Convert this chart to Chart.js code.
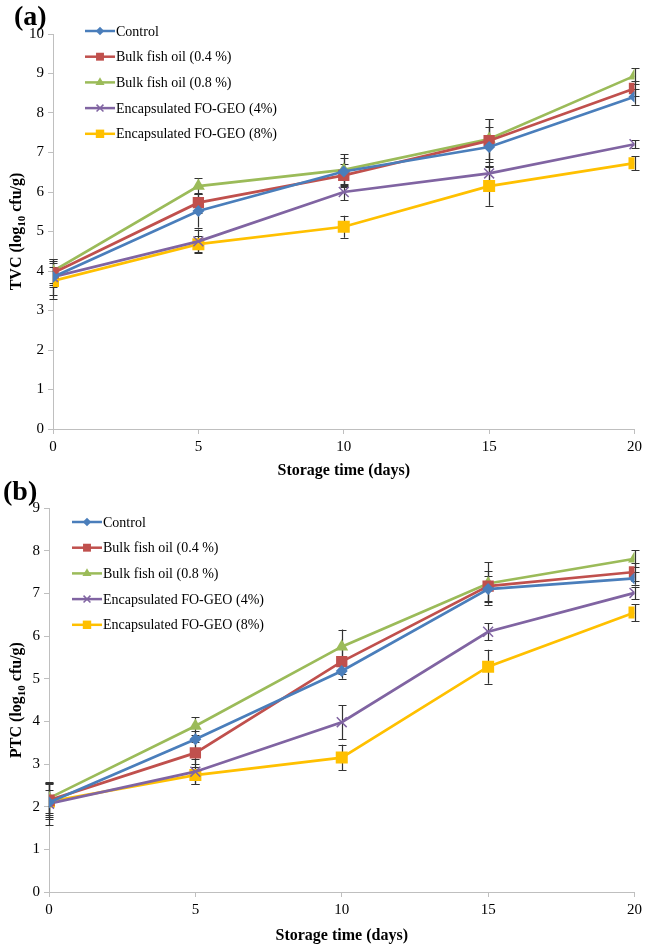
<!DOCTYPE html>
<html>
<head>
<meta charset="utf-8">
<script src="https://cdn.jsdelivr.net/npm/chart.js@4.4.1/dist/chart.umd.min.js"></script>
<style>
body { margin: 0; background: #fff; width: 646px; height: 945px; position: relative; overflow: hidden; }
.box { position: absolute; left: 0; width: 646px; }
.tag { position: absolute; font: bold 28px "Liberation Serif", serif; color: #000; }
</style>
</head>
<body>
<div class="box" style="top:0;height:480px"><canvas id="chartA"></canvas></div>
<div class="box" style="top:480px;height:465px"><canvas id="chartB"></canvas></div>
<div class="tag" style="left:14px;top:0px">(a)</div>
<div class="tag" style="left:3px;top:475px">(b)</div>
<script>
var days = [0, 5, 10, 15, 20];
var seriesNames = ['Control', 'Bulk fish oil (0.4 %)', 'Bulk fish oil (0.8 %)', 'Encapsulated FO-GEO (4%)', 'Encapsulated FO-GEO (8%)'];

// (a) TVC
var tvcControl = [3.85, 5.52, 6.52, 7.14, 8.41];
var tvcBulk04  = [3.95, 5.73, 6.42, 7.30, 8.62];
var tvcBulk08  = [4.00, 6.15, 6.56, 7.34, 8.94];
var tvcEnc4    = [3.85, 4.75, 6.00, 6.47, 7.21];
var tvcEnc8    = [3.75, 4.68, 5.12, 6.15, 6.73];
var tvcErrControl = [0.45, 0.42, 0.35, 0.50, 0.20];
var tvcErrBulk04  = [0.30, 0.25, 0.30, 0.55, 0.20];
var tvcErrBulk08  = [0.30, 0.20, 0.40, 0.50, 0.20];
var tvcErrEnc4    = [0.25, 0.30, 0.20, 0.20, 0.10];
var tvcErrEnc8    = [0.45, 0.20, 0.28, 0.50, 0.17];

// (b) PTC
var ptcControl = [2.10, 3.58, 5.18, 7.10, 7.35];
var ptcBulk04  = [2.15, 3.26, 5.40, 7.17, 7.50];
var ptcBulk08  = [2.20, 3.89, 5.75, 7.23, 7.81];
var ptcEnc4    = [2.07, 2.82, 3.98, 6.10, 7.01];
var ptcEnc8    = [2.12, 2.74, 3.15, 5.28, 6.55];
var ptcErrControl = [0.30, 0.20, 0.18, 0.30, 0.15];
var ptcErrBulk04  = [0.40, 0.25, 0.30, 0.35, 0.20];
var ptcErrBulk08  = [0.35, 0.20, 0.40, 0.50, 0.20];
var ptcErrEnc4    = [0.50, 0.30, 0.40, 0.20, 0.15];
var ptcErrEnc8    = [0.40, 0.20, 0.30, 0.40, 0.20];

var colors = ['#4A7EBB', '#C0504D', '#9BBB59', '#8064A2', '#FFC000'];
var markers = [
  { pointStyle: 'rectRot', radius: 6, borderWidth: 0 },
  { pointStyle: 'rect', radius: 8, borderWidth: 0 },
  { pointStyle: 'triangle', radius: 7.5, borderWidth: 0 },
  { pointStyle: 'crossRot', radius: 7, borderWidth: 1.5 },
  { pointStyle: 'rect', radius: 8.5, borderWidth: 0 }
];

var serif = '"Liberation Serif", "Times New Roman", serif';

var errorBars = {
  id: 'errorBars',
  beforeDatasetsDraw: function (chart) {
    var ctx = chart.ctx, ys = chart.scales.y;
    ctx.save();
    ctx.strokeStyle = '#333';
    ctx.lineWidth = 1.2;
    chart.data.datasets.forEach(function (ds, i) {
      var meta = chart.getDatasetMeta(i);
      meta.data.forEach(function (pt, j) {
        var v = ds.data[j].y, e = ds.errors[j];
        var top = ys.getPixelForValue(v + e), bot = ys.getPixelForValue(v - e);
        var x = Math.round(pt.x) + 0.5;
        ctx.beginPath();
        ctx.moveTo(x, top); ctx.lineTo(x, bot);
        ctx.moveTo(x - 4, Math.round(top) + 0.5); ctx.lineTo(x + 4, Math.round(top) + 0.5);
        ctx.moveTo(x - 4, Math.round(bot) + 0.5); ctx.lineTo(x + 4, Math.round(bot) + 0.5);
        ctx.stroke();
      });
    });
    ctx.restore();
  }
};

var sideText = {
  id: 'sideText',
  afterDraw: function (chart) {
    var o = chart.options.plugins.sideText;
    var ctx = chart.ctx, area = chart.chartArea;
    ctx.save();
    // legend
    ctx.font = '14px ' + serif;
    ctx.textBaseline = 'middle';
    chart.data.datasets.forEach(function (ds, i) {
      var y = o.legendY + i * o.legendStep;
      ctx.strokeStyle = ds.borderColor;
      ctx.lineWidth = 2.5;
      ctx.beginPath();
      ctx.moveTo(o.legendX, y); ctx.lineTo(o.legendX + 30, y);
      ctx.stroke();
      ctx.fillStyle = ds.borderColor;
      ctx.lineWidth = markers[i].borderWidth || 1;
      Chart.helpers.drawPoint(ctx, {
        pointStyle: markers[i].pointStyle,
        radius: markers[i].radius * 0.7,
        rotation: 0,
        borderWidth: markers[i].borderWidth
      }, o.legendX + 15, y);
      ctx.fillStyle = '#000';
      ctx.fillText(ds.label, o.legendX + 31, y + 1);
    });
    // y axis title with subscript
    var parts = [[o.yPrefix + ' (log', 'bold 16px ' + serif, 0], ['10', 'bold 11px ' + serif, 4], [' cfu/g)', 'bold 16px ' + serif, 0]];
    var total = 0;
    parts.forEach(function (p) { ctx.font = p[1]; total += ctx.measureText(p[0]).width; });
    ctx.translate(o.yTitleX, (area.top + area.bottom) / 2);
    ctx.rotate(-Math.PI / 2);
    ctx.fillStyle = '#000';
    ctx.textBaseline = 'alphabetic';
    var cx = -total / 2;
    parts.forEach(function (p) {
      ctx.font = p[1];
      ctx.fillText(p[0], cx, 5 + p[2]);
      cx += ctx.measureText(p[0]).width;
    });
    ctx.restore();
  }
};

function makeChart(id, series, errs, yMax, yPrefix, geom) {
  var datasets = series.map(function (vals, i) {
    return {
      label: seriesNames[i],
      data: days.map(function (d, j) { return { x: d, y: vals[j] }; }),
      errors: errs[i],
      borderColor: colors[i],
      backgroundColor: colors[i],
      borderWidth: 2.7,
      pointStyle: markers[i].pointStyle,
      pointRadius: markers[i].radius,
      pointBorderWidth: markers[i].borderWidth,
      pointHoverRadius: markers[i].radius,
      tension: 0
    };
  });
  var axisColor = '#BFBFBF';
  return new Chart(document.getElementById(id), {
    type: 'line',
    data: { datasets: datasets },
    plugins: [errorBars, sideText],
    options: {
      responsive: true,
      maintainAspectRatio: false,
      animation: false,
      layout: { padding: { top: geom.top, right: 8, bottom: 0, left: 0 } },
      plugins: {
        legend: { display: false },
        tooltip: { enabled: false },
        sideText: { legendX: geom.legendX, legendY: geom.legendY, legendStep: 25.7, yPrefix: yPrefix, yTitleX: 16 }
      },
      scales: {
        x: {
          type: 'linear', min: 0, max: 20,
          ticks: { stepSize: 5, color: '#000', padding: 4, font: { family: serif, size: 15 } },
          grid: { display: true, drawOnChartArea: false, drawTicks: true, tickLength: 5, color: axisColor },
          border: { display: true, color: axisColor, width: 1 },
          title: { display: true, text: 'Storage time (days)', color: '#000', padding: { top: 0, bottom: 0 }, font: { family: serif, size: 16, weight: 'bold' } },
          afterFit: function (s) { s.height = geom.xHeight; }
        },
        y: {
          min: 0, max: yMax,
          ticks: { stepSize: 1, color: '#000', padding: 4, font: { family: serif, size: 15 } },
          grid: { display: true, drawOnChartArea: false, drawTicks: true, tickLength: 5, color: axisColor },
          border: { display: true, color: axisColor, width: 1 },
          afterFit: function (s) { s.width = geom.yWidth; }
        }
      }
    }
  });
}

makeChart('chartA',
  [tvcControl, tvcBulk04, tvcBulk08, tvcEnc4, tvcEnc8],
  [tvcErrControl, tvcErrBulk04, tvcErrBulk08, tvcErrEnc4, tvcErrEnc8],
  10, 'TVC',
  { top: 34, xHeight: 51, yWidth: 53, legendX: 85, legendY: 31 });

makeChart('chartB',
  [ptcControl, ptcBulk04, ptcBulk08, ptcEnc4, ptcEnc8],
  [ptcErrControl, ptcErrBulk04, ptcErrBulk08, ptcErrEnc4, ptcErrEnc8],
  9, 'PTC',
  { top: 28, xHeight: 53, yWidth: 49, legendX: 72, legendY: 42 });
</script>
</body>
</html>
